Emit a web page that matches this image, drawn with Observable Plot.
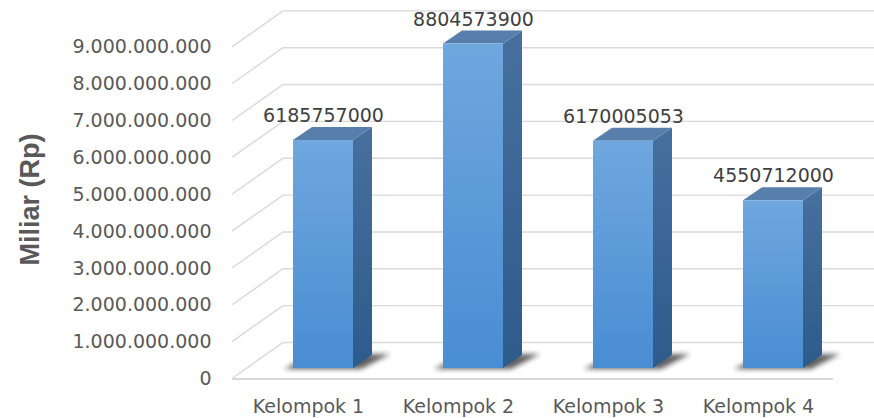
<!DOCTYPE html>
<html>
<head>
<meta charset="utf-8">
<script src="https://cdn.jsdelivr.net/npm/d3@7"></script>
<script src="https://cdn.jsdelivr.net/npm/@observablehq/plot@0.6"></script>
<style>
  html, body { margin: 0; padding: 0; background: #ffffff; }
  #chart svg { display: block; }
</style>
</head>
<body>
<div id="chart"></div>
<script>
// ---- data ----
const categories = ["Kelompok 1", "Kelompok 2", "Kelompok 3", "Kelompok 4"];
const values = [6185757000, 8804573900, 6170005053, 4550712000];
const valueLabels = ["6185757000", "8804573900", "6170005053", "4550712000"];
const yTicks = [0, 1e9, 2e9, 3e9, 4e9, 5e9, 6e9, 7e9, 8e9, 9e9];
const yTickLabels = ["0", "1.000.000.000", "2.000.000.000", "3.000.000.000", "4.000.000.000",
  "5.000.000.000", "6.000.000.000", "7.000.000.000", "8.000.000.000", "9.000.000.000"];
const yTitle = "Miliar (Rp)";

const data = categories.map((c, i) => ({cat: c, value: values[i], label: valueLabels[i]}));
const ticks = yTicks.map((v, i) => ({v, label: yTickLabels[i]}));

// 3D geometry (pixels)
const DX = 19, DY = -13;          // bar depth offset
const FRONT_X = 232, BACK_X = 283; // side wall front/back x
const FRONT_OFF = 10.5, BACK_OFF = -25.5; // grid offsets relative to bar plane
const GRID = "#d9d9d9";

function bandwidthOf(x) {
  const s = x(categories[1]) - x(categories[0]);
  return s * 0.4;
}

function gridMark(index, scales, values, dims) {
  const y = scales.y, x = scales.x;
  const g = d3.create("svg:g");
  for (const v of yTicks) {
    const yy = y(v);
    g.append("polyline")
      .attr("points", `${FRONT_X},${yy + FRONT_OFF} ${BACK_X},${yy + BACK_OFF} ${dims.width},${yy + BACK_OFF}`)
      .attr("fill", "none").attr("stroke", GRID).attr("stroke-width", 1.4);
  }
  const bw = bandwidthOf(x);
  const xe = x(categories[categories.length - 1]) + bw + 30;
  g.append("line")
    .attr("x1", FRONT_X).attr("x2", xe)
    .attr("y1", y(0) + 11).attr("y2", y(0) + 11)
    .attr("stroke", GRID).attr("stroke-width", 2);
  return g.node();
}

function barsMark(index, scales, values, dims) {
  const y = scales.y, x = scales.x;
  const bw = bandwidthOf(x);
  const g = d3.create("svg:g");
  const defs = g.append("defs");
  const gf = defs.append("linearGradient").attr("id", "gFront").attr("x1", 0).attr("y1", 0).attr("x2", 0).attr("y2", 1);
  gf.append("stop").attr("offset", "0%").attr("stop-color", "#6fa7de");
  gf.append("stop").attr("offset", "100%").attr("stop-color", "#498dd3");
  const gs = defs.append("linearGradient").attr("id", "gSide").attr("x1", 0).attr("y1", 0).attr("x2", 0).attr("y2", 1);
  gs.append("stop").attr("offset", "0%").attr("stop-color", "#47709e");
  gs.append("stop").attr("offset", "100%").attr("stop-color", "#2d5b8b");
  defs.append("filter").attr("id", "shadowBlur").attr("x", "-50%").attr("y", "-50%").attr("width", "200%").attr("height", "200%")
    .append("feGaussianBlur").attr("stdDeviation", 2.5);

  for (const d of data) {
    const x0 = x(d.cat), x1 = x0 + bw;
    const yt = y(d.value), yb = y(0);
    // shadow
    g.append("polygon")
      .attr("points", `${x0 - 9},${yb + 1} ${x1 + 8},${yb + 1} ${x1 + DX + 18},${yb + DY - 1} ${x0 + DX},${yb + DY}`)
      .attr("fill", "#1e1e1e").attr("opacity", 0.7).attr("filter", "url(#shadowBlur)");
    // side face
    g.append("polygon")
      .attr("points", `${x1},${yb} ${x1 + DX},${yb + DY} ${x1 + DX},${yt + DY} ${x1},${yt}`)
      .attr("fill", "url(#gSide)");
    // top face
    g.append("polygon")
      .attr("points", `${x0},${yt} ${x0 + DX},${yt + DY} ${x1 + DX},${yt + DY} ${x1},${yt}`)
      .attr("fill", "#587fac");
    // front face
    g.append("rect")
      .attr("x", x0).attr("y", yt).attr("width", bw).attr("height", yb - yt)
      .attr("fill", "url(#gFront)");
  }
  return g.node();
}

const chart = Plot.plot({
  width: 874,
  height: 418,
  marginLeft: 232,
  marginRight: 0,
  marginTop: 0,
  marginBottom: 0,
  style: {fontFamily: "'DejaVu Sans', sans-serif", background: "#ffffff"},
  x: {type: "band", domain: categories, range: [248, 848], paddingInner: 0.6, paddingOuter: 0.3, axis: null},
  y: {type: "linear", domain: [0, 9e9], range: [368, 36.35], axis: null},
  marks: [
    gridMark,
    barsMark,
    // y tick labels (front edge)
    Plot.text(ticks, {
      y: "v", text: "label", frameAnchor: "left", textAnchor: "end",
      dx: -21, dy: FRONT_OFF, fontSize: 19, fill: "#595959"
    }),
    // value labels
    Plot.text(data, {
      x: "cat", y: "value", text: "label", dy: -24.5, fontSize: 19, fill: "#404040"
    }),
    // category labels
    Plot.text(data, {
      x: "cat", y: () => 0, text: "cat", dx: -15, dy: 38, fontSize: 19, fill: "#595959"
    }),
    // y title
    Plot.text([yTitle], {
      text: d => d, frameAnchor: "left", textAnchor: "middle", dx: -202, dy: -10, rotate: -90,
      fontSize: 27, fontWeight: "bold", fill: "#595959", fontFamily: "'Liberation Sans', Arial, sans-serif"
    })
  ]
});

document.getElementById("chart").appendChild(chart);
</script>
</body>
</html>
